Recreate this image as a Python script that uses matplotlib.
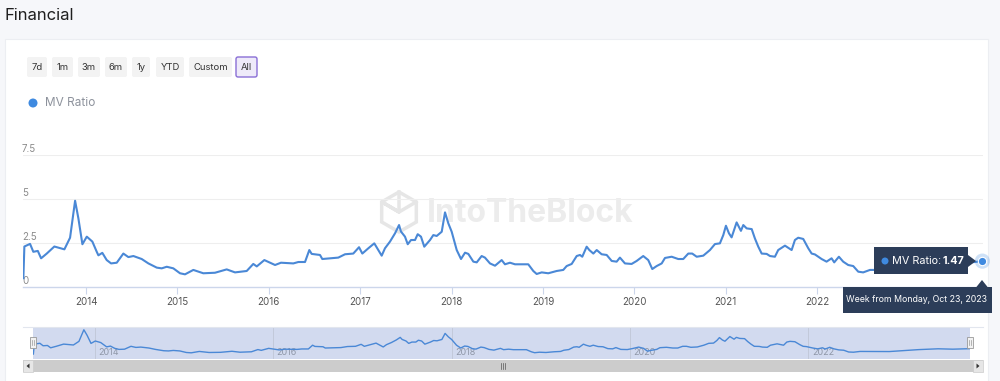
import numpy as np
import matplotlib.pyplot as plt
from matplotlib.patches import Rectangle, FancyBboxPatch, Polygon, RegularPolygon, Circle
import matplotlib.transforms as mtransforms

# data: decimal year, MV ratio
years = [2013.314, 2013.325, 2013.387, 2013.423, 2013.472, 2013.508, 2013.570, 2013.653,
         2013.763, 2013.825, 2013.880, 2013.916, 2013.960, 2014.008, 2014.069, 2014.117,
         2014.135, 2014.178, 2014.226, 2014.274, 2014.336, 2014.408, 2014.463, 2014.518,
         2014.609, 2014.682, 2014.774, 2014.828, 2014.883, 2014.955, 2015.028, 2015.083,
         2015.174, 2015.283, 2015.411, 2015.539, 2015.630, 2015.758, 2015.830, 2015.868,
         2015.951, 2016.032, 2016.068, 2016.133, 2016.268, 2016.323, 2016.396, 2016.443,
         2016.469, 2016.560, 2016.585, 2016.670, 2016.760, 2016.834, 2016.924, 2016.987,
         2017.023, 2017.089, 2017.154, 2017.235, 2017.271, 2017.326, 2017.381, 2017.425,
         2017.446, 2017.490, 2017.520, 2017.556, 2017.600, 2017.629, 2017.665, 2017.701,
         2017.764, 2017.800, 2017.837, 2017.892, 2017.928, 2017.964, 2018.001, 2018.056,
         2018.103, 2018.147, 2018.183, 2018.238, 2018.275, 2018.329, 2018.365, 2018.420,
         2018.475, 2018.548, 2018.584, 2018.639, 2018.694, 2018.839, 2018.894, 2018.931,
         2018.986, 2019.058, 2019.150, 2019.222, 2019.259, 2019.314, 2019.369, 2019.405,
         2019.430, 2019.478, 2019.507, 2019.551, 2019.588, 2019.642, 2019.697, 2019.752,
         2019.806, 2019.842, 2019.897, 2019.970, 2020.025, 2020.097, 2020.152, 2020.196,
         2020.244, 2020.299, 2020.335, 2020.408, 2020.480, 2020.535, 2020.590, 2020.633,
         2020.682, 2020.754, 2020.827, 2020.882, 2020.936, 2020.973, 2021.002, 2021.035,
         2021.064, 2021.119, 2021.166, 2021.192, 2021.229, 2021.284, 2021.319, 2021.356,
         2021.393, 2021.448, 2021.484, 2021.538, 2021.574, 2021.648, 2021.721, 2021.757,
         2021.793, 2021.848, 2021.903, 2021.940, 2021.976, 2022.049, 2022.103, 2022.158,
         2022.187, 2022.238, 2022.285, 2022.340, 2022.395, 2022.450, 2022.504, 2022.578,
         2022.632, 2022.906, 2023.234, 2023.453, 2023.617, 2023.726, 2023.808]
mv_ratio = [0.5, 2.3, 2.45, 2.0, 2.05, 1.63, 1.9, 2.3,
            2.14, 2.8, 4.9, 3.9, 2.43, 2.86, 2.58, 2.0,
            1.8, 1.94, 1.53, 1.34, 1.38, 1.9, 1.7, 1.76,
            1.59, 1.34, 1.1, 1.06, 1.15, 1.06, 0.78, 0.72,
            0.97, 0.78, 0.81, 1.0, 0.83, 0.91, 1.31, 1.17,
            1.53, 1.34, 1.25, 1.38, 1.34, 1.42, 1.42, 2.1,
            1.88, 1.82, 1.59, 1.63, 1.67, 1.86, 1.9, 2.26,
            1.9, 2.2, 2.48, 1.78, 2.2, 2.58, 3.05, 3.52,
            3.15, 2.86, 2.43, 2.67, 2.67, 3.0, 2.86, 2.29,
            2.67, 2.95, 2.9, 3.14, 4.24, 3.62, 3.14, 2.1,
            1.59, 1.95, 1.88, 1.44, 1.4, 1.76, 1.67, 1.34,
            1.21, 1.53, 1.29, 1.38, 1.29, 1.29, 0.91, 0.74,
            0.83, 0.78, 0.91, 0.97, 1.19, 1.31, 1.76, 1.82,
            1.72, 2.29, 2.1, 1.9, 2.1, 1.86, 1.82, 1.48,
            1.44, 1.67, 1.34, 1.31, 1.48, 1.76, 1.53, 1.02,
            1.19, 1.34, 1.65, 1.72, 1.59, 1.59, 1.9, 1.9,
            1.72, 1.78, 2.1, 2.44, 2.48, 2.95, 3.48, 3.05,
            2.82, 3.67, 3.19, 3.52, 3.33, 3.29, 2.76, 2.29,
            1.9, 1.88, 1.76, 1.72, 2.1, 2.35, 2.1, 2.67,
            2.8, 2.73, 2.2, 1.9, 1.85, 1.59, 1.44, 1.63,
            1.4, 1.72, 1.44, 1.25, 1.19, 0.87, 0.83, 0.97,
            0.97, 0.95, 1.3, 1.45, 1.38, 1.42, 1.47]

y_ticks = [0, 2.5, 5, 7.5]
y_tick_labels = ['0', '2.5', '5', '7.5']
x_ticks = [2014, 2015, 2016, 2017, 2018, 2019, 2020, 2021, 2022]
nav_ticks = [2014, 2016, 2018, 2020, 2022]
buttons = ['7d', '1m', '3m', '6m', '1y', 'YTD', 'Custom', 'All']

W, H = 1000, 381
LINE = '#4a88d6'
DOT = '#3f8ae0'
NAVY = '#2c3d59'

plt.rcParams['font.family'] = ['Inter', 'DejaVu Sans']

fig = plt.figure(figsize=(W / 100, H / 100), dpi=100)
fig.patch.set_facecolor('#f6f7fa')


def fx(px):
    return px / W


def fy(py):
    return 1 - py / H


def pixel_axes(z):
    a = fig.add_axes([0, 0, 1, 1], zorder=z)
    a.set_xlim(0, W)
    a.set_ylim(H, 0)
    a.axis('off')
    a.patch.set_alpha(0)
    return a


# background layer: card, title, buttons, legend, watermark
bg = pixel_axes(-1)
bg.add_patch(Rectangle((5, 39), 983, 350, facecolor='white', edgecolor='#eceef2', lw=0.8))
bg.text(5, 15, 'Financial', fontsize=12, color='#1f1f1f', va='center', ha='left')

btn_pos = [(27, 47), (52, 73), (78, 100), (105, 127), (132, 150), (156, 184), (189, 232), (236, 257)]
for lab, (x0, x1) in zip(buttons, btn_pos):
    sel = lab == 'All'
    bg.add_patch(FancyBboxPatch((x0, 57), x1 - x0, 20, boxstyle='round,pad=0,rounding_size=2',
                                facecolor='#eeeaf9' if sel else '#f3f3f3',
                                edgecolor='#8a6fd6' if sel else 'none', lw=1.0))
    bg.text((x0 + x1) / 2, 67.5, lab, fontsize=6.8, color='#333333', ha='center', va='center')

bg.add_patch(Circle((33, 103), 4.5, facecolor=DOT, edgecolor='none'))
bg.text(45, 103, 'MV Ratio', fontsize=8.5, color='#8d929c', ha='left', va='center')

bg.text(427, 214, 'IntoTheBlock', fontsize=23, fontweight='bold', color='#ececec',
        ha='left', va='center')
bg.add_patch(RegularPolygon((399, 212), 6, radius=20, orientation=0, facecolor='none',
                            edgecolor='#e6e6e6', lw=2.5))
bg.plot([399, 399, 382, 399, 416], [192, 212, 202, 212, 202], color='#e6e6e6', lw=2.5)

# main chart
x_min, x_max = 2013.31, 2023.815
ax = fig.add_axes([fx(23), fy(287), fx(983) - fx(23), fy(155) - fy(287)], zorder=1)
ax.set_xlim(x_min, x_max)
ax.set_ylim(0, 7.5)
ax.patch.set_alpha(0)
for s in ['top', 'right', 'left']:
    ax.spines[s].set_visible(False)
ax.spines['bottom'].set_color('#ccd6eb')
ax.spines['bottom'].set_linewidth(1)
for v in y_ticks[1:]:
    ax.axhline(v, color='#eeeeee', lw=0.8, zorder=0)
ax.set_yticks([])
ax.set_xticks(x_ticks)
ax.set_xticklabels([str(t) for t in x_ticks], fontsize=7, color='#555555')
ax.tick_params(axis='x', length=5, color='#ccd6eb', pad=2)
trans = mtransforms.blended_transform_factory(ax.transAxes, ax.transData)
for v, lab in zip(y_ticks, y_tick_labels):
    ax.text(-0.001, v + 0.08, lab, transform=trans, fontsize=7, color='#8c8c8c',
            ha='left', va='bottom')

ax.plot(years, mv_ratio, color=LINE, lw=1.5, zorder=3, solid_joinstyle='round')

# hovered point
ax.scatter([years[-1]], [mv_ratio[-1]], s=120, color=DOT, alpha=0.25, zorder=4,
           clip_on=False, edgecolors='none')
ax.scatter([years[-1]], [mv_ratio[-1]], s=36, color=DOT, zorder=5, clip_on=False,
           edgecolors='white', linewidths=0.8)

# navigator
nav = fig.add_axes([fx(33), fy(359), fx(970) - fx(33), fy(327) - fy(359)], zorder=1)
nav.set_xlim(x_min, 2023.81)
nav.set_ylim(-0.4, 5.4)
nav.patch.set_facecolor('#d2daef')
for s in nav.spines.values():
    s.set_visible(False)
nav.set_xticks([])
nav.set_yticks([])
for t in nav_ticks:
    nav.axvline(t, color='#c0c6d6', lw=0.6, zorder=1)
    nav.text(t + 0.04, -0.1, str(t), fontsize=6.5, color='#8f97a8', ha='left', va='bottom', zorder=2)
nav.plot(years, mv_ratio, color=LINE, lw=1.0, zorder=3)

# overlay layer: tooltip, navigator handles, scrollbar
top = pixel_axes(5)
top.plot([23, 983], [327, 327], color='#e2e6ee', lw=0.8)

top.add_patch(Rectangle((874, 247), 94, 27, facecolor=NAVY, edgecolor='none'))
top.add_patch(Polygon([(968, 255), (976, 261), (968, 267)], facecolor=NAVY, edgecolor='none'))
top.add_patch(Circle((885, 261), 3.5, facecolor=DOT, edgecolor='none'))
top.text(892, 261, 'MV Ratio:', fontsize=7.8, color='white', ha='left', va='center')
top.text(943, 261, '1.47', fontsize=7.8, color='white', fontweight='bold', ha='left', va='center')

top.add_patch(Rectangle((843, 287), 149, 26, facecolor=NAVY, edgecolor='none'))
top.add_patch(Polygon([(976, 287.5), (982, 280), (988, 287.5)], facecolor=NAVY, edgecolor='none'))
top.text(917, 300, 'Week from Monday, Oct 23, 2023', fontsize=6.3, color='white',
         ha='center', va='center')

for hx in (33, 970):
    top.add_patch(Rectangle((hx - 3, 337), 6, 11, facecolor='#f2f2f2', edgecolor='#999999', lw=0.6))
    top.plot([hx - 0.8, hx - 0.8], [340, 345], color='#999999', lw=0.5)
    top.plot([hx + 0.8, hx + 0.8], [340, 345], color='#999999', lw=0.5)

top.add_patch(Rectangle((23, 360), 960, 12, facecolor='#cccccc', edgecolor='none'))
for bx in (23, 973):
    top.add_patch(Rectangle((bx, 360), 10, 12, facecolor='#e6e6e6', edgecolor='#cccccc', lw=0.5))
top.add_patch(Polygon([(29.5, 363.5), (26.5, 366), (29.5, 368.5)], facecolor='#333333', edgecolor='none'))
top.add_patch(Polygon([(976.5, 363.5), (979.5, 366), (976.5, 368.5)], facecolor='#333333', edgecolor='none'))
for gx in (501, 503, 505):
    top.plot([gx, gx], [363, 369], color='#555555', lw=0.5)

fig.savefig('out.png', dpi=100, facecolor=fig.get_facecolor())
